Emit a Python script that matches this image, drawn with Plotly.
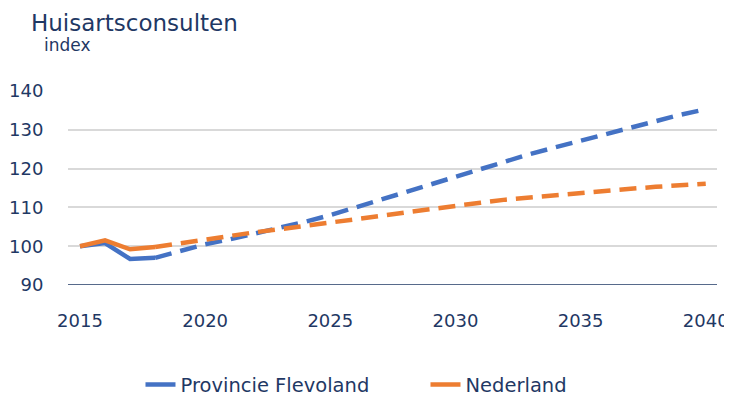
import plotly.graph_objects as go

# observed years (solid) and projection (dashed)
years_obs = [2015, 2016, 2017, 2018]
flevo_obs = [100.0, 100.8, 96.7, 97.0]
nl_obs = [100.0, 101.5, 99.2, 99.8]

years_proj = list(range(2018, 2041))
flevo_proj = [97.0, 98.8, 100.5, 101.8, 103.2, 104.7, 106.3, 108.0, 110.0, 112.0,
              114.0, 116.0, 118.0, 120.0, 122.0, 123.8, 125.5, 127.2, 128.9,
              130.6, 132.3, 133.9, 135.3]
nl_proj = [99.8, 100.8, 101.8, 102.7, 103.6, 104.4, 105.2, 106.0, 106.9, 107.8,
           108.7, 109.6, 110.4, 111.2, 112.0, 112.6, 113.2, 113.8, 114.3,
           114.8, 115.3, 115.7, 116.1]

x_ticks = [2015, 2020, 2025, 2030, 2035, 2040]
y_ticks = [90, 100, 110, 120, 130, 140]

BLUE = "#4472C4"
ORANGE = "#ED7D31"
NAVY = "#1F3864"
FONT = "DejaVu Sans"

fig = go.Figure()
for name, color, obs, proj in [
    ("Provincie Flevoland", BLUE, flevo_obs, flevo_proj),
    ("Nederland", ORANGE, nl_obs, nl_proj),
]:
    fig.add_trace(go.Scatter(x=years_obs, y=obs, mode="lines", name=name,
                             line=dict(color=color, width=4.5)))
    fig.add_trace(go.Scatter(x=years_proj, y=proj, mode="lines", showlegend=False,
                             line=dict(color=color, width=4.5, dash="17px,9px")))

# page body has an 8px margin, so the figure is 8px smaller than the window
fig.update_layout(
    width=724, height=389,
    margin=dict(l=60, r=15, t=83, b=112, autoexpand=False),
    paper_bgcolor="white", plot_bgcolor="white",
    font=dict(family=FONT, color=NAVY, size=18),
    showlegend=True,
    legend=dict(orientation="h", xref="container", yref="container",
                x=0.183, xanchor="left", y=0.031, yanchor="middle",
                font=dict(size=19.5, color=NAVY), entrywidth=240,
                entrywidthmode="pixels"),
    annotations=[
        dict(text="Huisartsconsulten", xref="paper", yref="paper", x=-0.060, y=1.352,
             xanchor="left", yanchor="middle", showarrow=False,
             font=dict(size=23, color=NAVY, family=FONT)),
        dict(text="index", xref="paper", yref="paper", x=-0.040, y=1.237,
             xanchor="left", yanchor="middle", showarrow=False,
             font=dict(size=17, color=NAVY, family=FONT)),
    ],
)
fig.update_xaxes(range=[2014.52, 2040.45], tickvals=x_ticks, showgrid=False,
                 showline=False, zeroline=False, ticks="outside", ticklen=19,
                 automargin=False, tickcolor="rgba(0,0,0,0)",
                 tickfont=dict(size=18, color=NAVY))
fig.update_yaxes(range=[90, 140], tickvals=y_ticks, showgrid=True, gridcolor="#D9D9D9",
                 gridwidth=1.5, zeroline=False, showline=False, ticks="outside",
                 ticklen=20, automargin=False, tickcolor="rgba(0,0,0,0)",
                 tickfont=dict(size=18, color=NAVY))
# dark baseline at 90
fig.add_shape(type="line", xref="paper", yref="y", x0=0, x1=1, y0=90, y1=90,
              line=dict(color=NAVY, width=1.5), layer="below")

fig.write_html("out.html")
